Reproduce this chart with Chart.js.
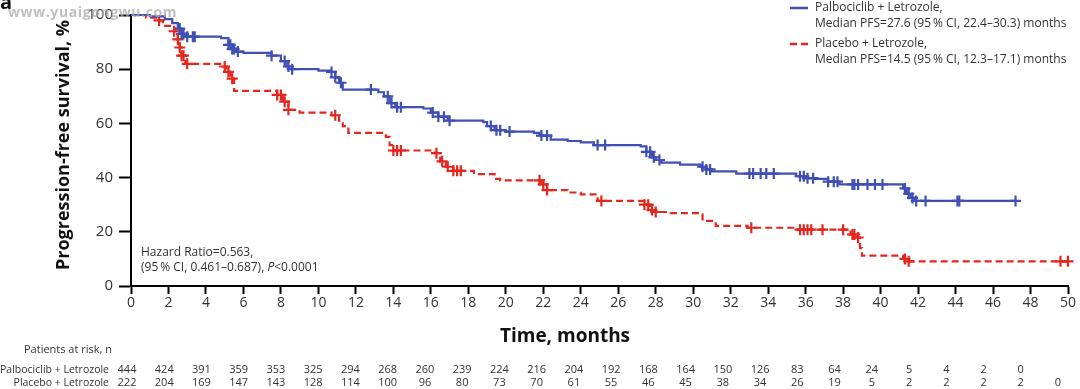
<!DOCTYPE html>
<html>
<head>
<meta charset="utf-8">
<script src="https://cdn.jsdelivr.net/npm/chart.js@4.4.1/dist/chart.umd.min.js"></script>
<style>
  html,body{margin:0;padding:0;background:#fff}
  #wrap{width:1080px;height:389px;position:relative}
</style>
</head>
<body>
<div id="wrap"><canvas id="km"></canvas></div>
<script>
// KM step data (time in months, survival %)
const palboTime = [0,1.0,1.8,2.2,2.5,2.7,2.9,4.8,5.2,5.4,5.6,6.0,7.5,8.0,8.3,8.6,10.0,10.6,10.9,11.1,11.3,13.2,13.5,13.8,14.1,15.6,16.0,16.4,16.9,18.8,19.0,19.4,20.0,21.5,21.8,22.4,23.3,24.0,24.7,27.2,27.5,27.8,28.0,28.3,29.3,30.4,30.7,31.0,32.3,35.5,36.0,36.5,37.2,37.8,41.2,41.4,41.6,41.8,47.2];
const palboSurv = [100,99.5,98.5,97,95,93,92,91.5,89,87.5,86.5,86,85,83,81,80,79.5,79,77,75,72.5,71.5,70,67.5,66,65.5,64,62.5,61,60.5,59,57.5,57,56.5,55.5,54,53.5,53,52,51.5,49.5,47.5,46.5,45.5,44.8,44,43,42.3,41.5,40.5,39.8,39.5,38.5,37.5,36,34,32.5,31.4,31.4];
const placeboTime = [0,0.8,1.5,1.7,2.3,2.5,2.6,2.7,2.9,4.9,5.1,5.3,5.5,7.8,8.1,8.4,9.0,10.7,11.1,11.3,11.6,13.6,13.8,14.0,16.2,16.5,16.8,17.2,18.3,19.4,19.7,21.9,22.2,23.3,24.0,24.9,27.4,27.7,28.0,28.8,30.5,31.2,32.9,35.5,38.4,38.7,38.9,39.0,41.2,41.4,50.0];
const placeboSurv = [100,99,98,96,94,91,88,85,82,81,79,76.5,72,70.5,68,65,64,63,61,59,56.5,55,52,50,49,46,44,42.5,41.3,39.5,39,37.5,35.4,34.5,33.8,31.4,30,28,27.3,26.9,24,22.2,21.5,20.8,19,17.9,14,11.2,10,9.1,9.1];

// censoring marks (months)
const palboCensor = [2.6,2.7,2.8,3.0,3.3,3.4,5.2,5.3,5.4,5.5,5.7,7.5,8.2,8.4,8.6,10.7,10.9,11.2,12.8,13.7,13.9,14.2,14.4,16.1,16.4,16.7,17.0,19.2,19.5,19.7,20.2,21.9,22.2,24.9,25.3,27.5,27.7,27.9,28.2,30.5,30.7,30.9,33.0,33.2,33.6,33.9,34.3,35.7,35.9,36.1,36.4,37.2,37.5,37.7,38.5,38.6,38.8,39.3,39.7,40.1,41.3,41.5,41.7,41.9,42.4,44.1,44.2,47.2];
const placeboCensor = [1.5,2.3,2.5,2.6,2.7,2.8,3.0,5.0,5.2,5.4,7.8,8.0,8.2,8.4,10.9,14.0,14.2,14.4,16.3,16.6,16.9,17.2,17.4,17.6,21.8,22.0,22.2,25.1,27.4,27.6,27.8,28.0,33.1,35.7,35.9,36.1,36.3,36.9,38.0,38.5,38.6,38.8,41.3,41.5,49.6,50.0];

// patients at risk
const riskMonths = [0,2,4,6,8,10,12,14,16,18,20,22,24,26,28,30,32,34,36,38,40,42,44,46,48,50];
const palboRisk = [444,424,391,359,353,325,294,268,260,239,224,216,204,192,168,164,150,126,83,64,24,5,4,2,0];
const placeboRisk = [222,204,169,147,143,128,114,100,96,80,73,70,61,55,46,45,38,34,26,19,5,2,2,2,2,0];

const BLUE = '#3f4fb3';
const RED = '#e3261e';
const FONT = '"Open Sans", "Noto Sans", sans-serif';

function steps(ts, ss){ return ts.map((t,i)=>({x:t, y:ss[i]})); }
function survAt(ts, ss, t){
  let v = ss[0];
  for(let i=0;i<ts.length;i++){ if(ts[i] <= t) v = ss[i]; }
  return v;
}
function marks(cs, ts, ss){ return cs.map(t=>({x:t, y:survAt(ts, ss, t)})); }

const kmText = {
  id:'kmText',
  afterDraw(chart){
    const {ctx, scales:{x}} = chart;
    ctx.save();

    // panel letter + watermark
    ctx.fillStyle = '#111';
    ctx.font = 'bold 20px ' + FONT;
    ctx.textBaseline = 'alphabetic';
    ctx.textAlign = 'left';
    ctx.fillText('a', 0, 9);
    ctx.fillStyle = 'rgba(170,170,170,0.75)';
    ctx.font = 'bold 14px ' + FONT;
    ctx.letterSpacing = '0.6px';
    ctx.textBaseline = 'middle';
    ctx.fillText('www.yuaigongwu.com', 8, 13);
    ctx.letterSpacing = '0px';

    // y axis title
    ctx.save();
    ctx.fillStyle = '#111';
    ctx.font = 'bold 18px ' + FONT;
    ctx.textAlign = 'center';
    ctx.translate(64, 145);
    ctx.rotate(-Math.PI/2);
    ctx.fillText('Progression-free survival, %', 0, 0);
    ctx.restore();

    // x axis title
    ctx.fillStyle = '#111';
    ctx.font = 'bold 19px ' + FONT;
    ctx.textAlign = 'center';
    ctx.fillText('Time, months', 565, 337);

    // legend
    ctx.lineWidth = 2.5;
    ctx.strokeStyle = BLUE;
    ctx.beginPath(); ctx.moveTo(790, 8); ctx.lineTo(808, 8); ctx.stroke();
    ctx.strokeStyle = RED;
    ctx.setLineDash([7,4]);
    ctx.beginPath(); ctx.moveTo(790, 44); ctx.lineTo(808, 44); ctx.stroke();
    ctx.setLineDash([]);
    ctx.fillStyle = '#333';
    ctx.font = '12px ' + FONT;
    ctx.textAlign = 'left';
    ctx.fillText('Palbociclib + Letrozole,', 815, 8);
    ctx.fillText('Median PFS=27.6 (95\u2009% CI, 22.4\u201330.3) months', 815, 24);
    ctx.fillText('Placebo + Letrozole,', 815, 44);
    ctx.fillText('Median PFS=14.5 (95\u2009% CI, 12.3\u201317.1) months', 815, 60);

    // hazard ratio
    ctx.fillText('Hazard Ratio=0.563,', 141, 253);
    const hr = '(95\u2009% CI, 0.461\u20130.687), ';
    ctx.fillText(hr, 141, 268);
    let hx = 141 + ctx.measureText(hr).width;
    ctx.font = 'italic 12px ' + FONT;
    ctx.fillText('P', hx, 268);
    hx += ctx.measureText('P').width;
    ctx.font = '12px ' + FONT;
    ctx.fillText('<0.0001', hx, 268);

    // patients at risk
    ctx.font = '11px ' + FONT;
    ctx.fillText('Patients at risk, n', 24, 350);
    ctx.textAlign = 'right';
    ctx.font = '10.5px ' + FONT;
    ctx.fillText('Palbociclib + Letrozole', 109, 370);
    ctx.fillText('Placebo + Letrozole', 109, 383);
    ctx.font = '11px ' + FONT;
    ctx.textAlign = 'center';
    palboRisk.forEach((n,i)=>{
      const t = riskMonths[i];
      ctx.fillText(String(n), x.getPixelForValue(t) - 4 - t*0.12, 370);
    });
    placeboRisk.forEach((n,i)=>{
      const t = riskMonths[i];
      ctx.fillText(String(n), x.getPixelForValue(t) - 4 - t*0.12, 383);
    });
    ctx.restore();
  }
};

new Chart(document.getElementById('km'), {
  type:'line',
  data:{
    datasets:[
      {
        label:'Palbociclib + Letrozole',
        data: steps(palboTime, palboSurv),
        borderColor: BLUE, borderWidth: 2.2,
        stepped: true, pointRadius: 0, fill: false, clip: false
      },
      {
        label:'Placebo + Letrozole',
        data: steps(placeboTime, placeboSurv),
        borderColor: RED, borderWidth: 2.2, borderDash:[7,4],
        stepped: true, pointRadius: 0, fill: false, clip: false
      },
      {
        type:'scatter', label:'Palbociclib censored',
        data: marks(palboCensor, palboTime, palboSurv),
        showLine:false, pointStyle:'cross', pointRadius:5.5,
        borderColor: BLUE, borderWidth: 2.2, clip: false
      },
      {
        type:'scatter', label:'Placebo censored',
        data: marks(placeboCensor, placeboTime, placeboSurv),
        showLine:false, pointStyle:'cross', pointRadius:5.5,
        borderColor: RED, borderWidth: 2.2, clip: false
      }
    ]
  },
  options:{
    responsive:true,
    maintainAspectRatio:false,
    animation:false,
    events:[],
    layout:{ padding:{ left:0, right:12, top:10, bottom:0 } },
    plugins:{ legend:{display:false}, tooltip:{enabled:false} },
    scales:{
      x:{
        type:'linear', min:0, max:50,
        afterFit: s => { s.height = 103; },
        ticks:{ stepSize:2, color:'#333', padding:1, maxRotation:0, autoSkip:false,
                font:{ family:FONT, size:14 } },
        grid:{ drawOnChartArea:false, drawTicks:true, tickLength:8, tickWidth:2, tickColor:'#000' },
        border:{ display:true, color:'#000', width:2 }
      },
      y:{
        min:0, max:100,
        afterFit: s => { s.width = 131; },
        ticks:{ stepSize:20, color:'#333', padding:6, font:{ family:FONT, size:15 } },
        grid:{ drawOnChartArea:false, drawTicks:true, tickLength:12, tickWidth:2, tickColor:'#000' },
        border:{ display:true, color:'#000', width:2 }
      }
    }
  },
  plugins:[kmText]
});
</script>
</body>
</html>
